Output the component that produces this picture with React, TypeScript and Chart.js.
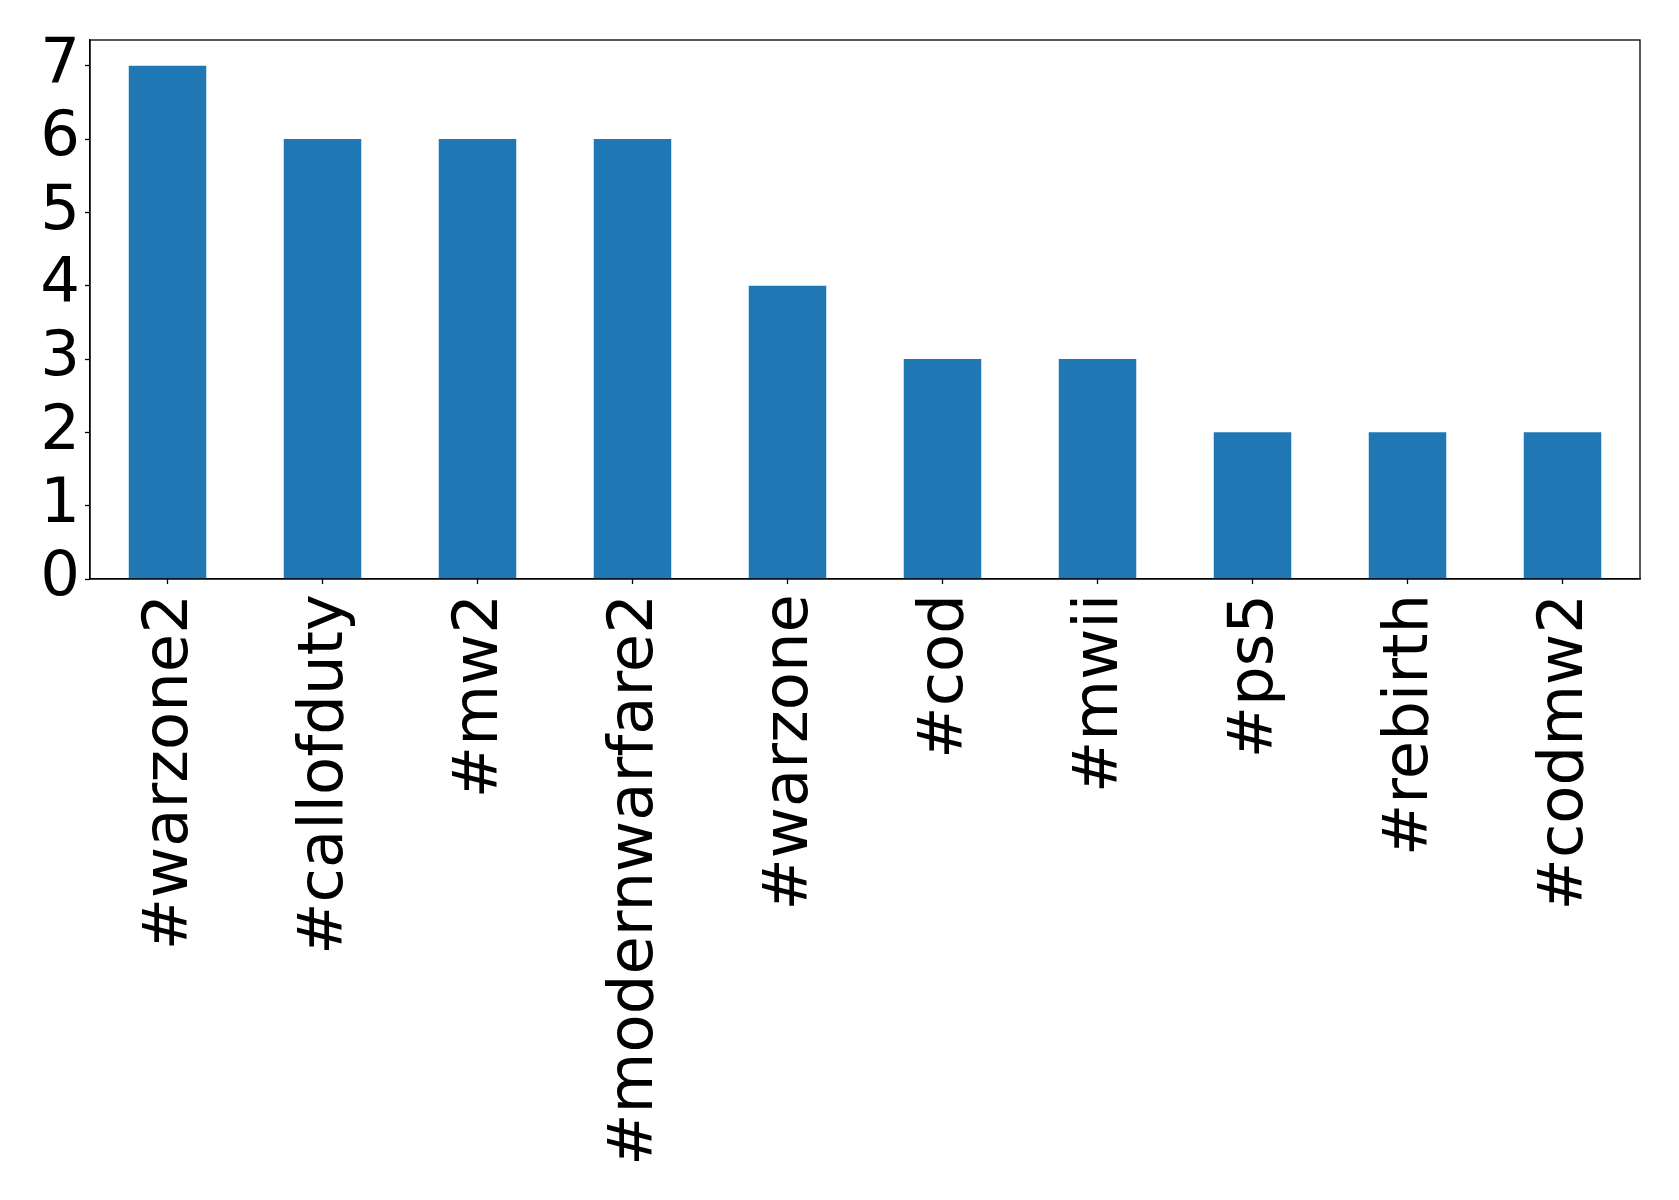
import React, { useEffect, useRef } from "react";
import { Chart, registerables } from "chart.js";

Chart.register(...registerables);

const categories = [
  "#warzone2",
  "#callofduty",
  "#mw2",
  "#modernwarfare2",
  "#warzone",
  "#cod",
  "#mwii",
  "#ps5",
  "#rebirth",
  "#codmw2",
];
const counts = [7, 6, 6, 6, 4, 3, 3, 2, 2, 2];
const yTicks = [0, 1, 2, 3, 4, 5, 6, 7];

const W = 1679;
const H = 1200;
const FONT = { family: "'DejaVu Sans', sans-serif", size: 62.5 };

const frame = {
  id: "frame",
  afterDatasetsDraw(chart: any) {
    const { ctx, chartArea } = chart;
    ctx.save();
    ctx.strokeStyle = "#000";
    ctx.lineWidth = 1.3;
    ctx.strokeRect(chartArea.left, chartArea.top, chartArea.right - chartArea.left, chartArea.bottom - chartArea.top);
    ctx.restore();
  },
};

export default function App() {
  const ref = useRef<HTMLCanvasElement>(null);
  useEffect(() => {
    if (!ref.current) return;
    const chart = new Chart(ref.current, {
      type: "bar",
      data: {
        labels: categories,
        datasets: [
          {
            data: counts,
            backgroundColor: "#1f77b4",
            borderWidth: 0,
            barPercentage: 0.5,
            categoryPercentage: 1,
          },
        ],
      },
      options: {
        responsive: false,
        animation: false,
        layout: { padding: { top: 40, right: 39, left: 0, bottom: 0 } },
        plugins: { legend: { display: false }, tooltip: { enabled: false } },
        scales: {
          x: {
            offset: true,
            grid: {
              offset: false,
              drawOnChartArea: false,
              drawTicks: true,
              tickLength: 5,
              tickColor: "#000",
              tickWidth: 1.3,
            },
            border: { display: true, color: "#000", width: 1.3 },
            ticks: {
              autoSkip: false,
              minRotation: 90,
              maxRotation: 90,
              padding: 10,
              labelOffset: 3,
              color: "#000",
              font: FONT,
            },
            afterFit(scale: any) {
              scale.height = 621;
              scale.paddingLeft = 0;
              scale.paddingRight = 0;
            },
          },
          y: {
            min: 0,
            max: 7.35,
            grid: {
              drawOnChartArea: false,
              drawTicks: true,
              tickLength: 5,
              tickColor: "#000",
              tickWidth: 1.3,
            },
            border: { display: true, color: "#000", width: 1.3 },
            afterBuildTicks(scale: any) {
              scale.ticks = yTicks.map((v) => ({ value: v }));
            },
            ticks: {
              autoSkip: false,
              color: "#000",
              font: FONT,
              padding: 5,
            },
            afterFit(scale: any) {
              scale.width = 90;
              scale.paddingTop = 0;
              scale.paddingBottom = 0;
            },
          },
        },
      },
      plugins: [frame],
    });
    return () => chart.destroy();
  }, []);
  return (
    <div style={{ position: "absolute", left: 0, top: 0, width: W, height: H, background: "#fff" }}>
      <canvas ref={ref} width={W} height={H} style={{ width: W, height: H }} />
    </div>
  );
}
